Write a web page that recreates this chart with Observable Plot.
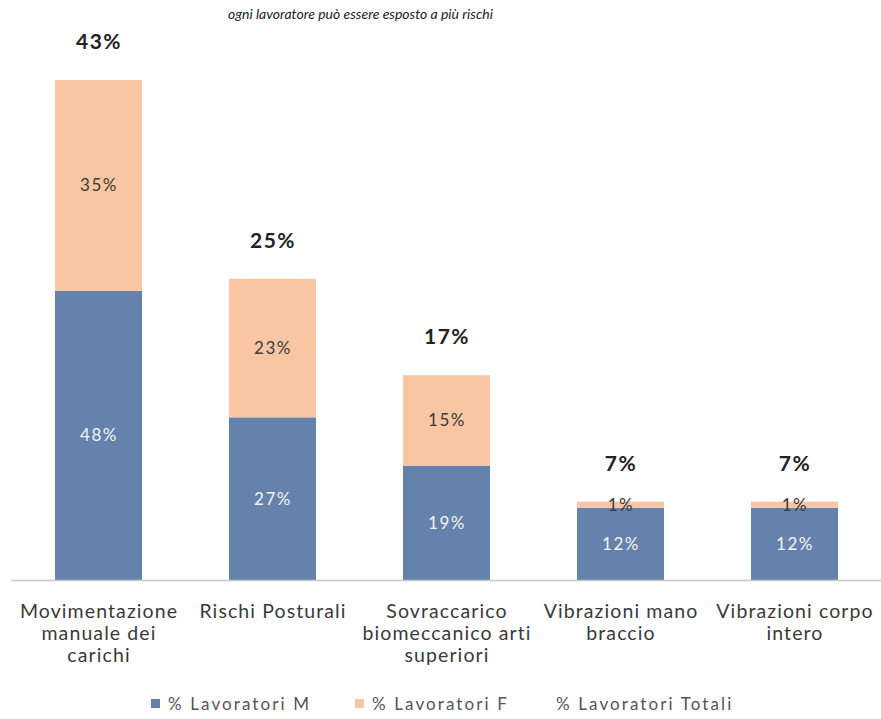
<!DOCTYPE html>
<html>
<head>
<meta charset="utf-8">
<script src="https://cdn.jsdelivr.net/npm/d3@7"></script>
<script src="https://cdn.jsdelivr.net/npm/@observablehq/plot@0.6"></script>
<style>
  html, body { margin: 0; padding: 0; background: #fff; }
  body { width: 881px; height: 719px; overflow: hidden; font-family: Lato, "Open Sans", sans-serif; }
  #subtitle { height: 24px; padding-top: 4px; line-height: 20px; box-sizing: border-box; text-align: left; padding-left: 228px; font-family: Lato, sans-serif; font-style: italic; font-size: 14px; color: #222; }
  #chart svg { overflow: visible; display: block; }
  #chart g[aria-label="x-axis tick label"] text { letter-spacing: 1.1px; }
  #chart g.seglabel text { letter-spacing: 1.5px; }
  #chart g.totlabel text { letter-spacing: 1.5px; }
  #legend { font-size: 17px; color: #555; letter-spacing: 2.1px; }
  #legend .item { display: flex; align-items: center; position: absolute; }
  #legend .sw { width: 9px; height: 9px; margin-right: 8px; display: inline-block; }
</style>
</head>
<body>
<div id="subtitle">ogni lavoratore può essere esposto a più rischi</div>
<div id="chart"></div>
<div id="legend"></div>
<script>
const categories = [
  "Movimentazione manuale dei carichi",
  "Rischi Posturali",
  "Sovraccarico biomeccanico arti superiori",
  "Vibrazioni mano braccio",
  "Vibrazioni corpo intero"
];
const tickLabels = [
  "Movimentazione\nmanuale dei\ncarichi",
  "Rischi Posturali",
  "Sovraccarico\nbiomeccanico arti\nsuperiori",
  "Vibrazioni mano\nbraccio",
  "Vibrazioni corpo\nintero"
];
const lavoratoriM = [48, 27, 19, 12, 12];
const lavoratoriF = [35, 23, 15, 1, 1];
const lavoratoriTotali = [43, 25, 17, 7, 7];
const seriesNames = ["% Lavoratori M", "% Lavoratori F", "% Lavoratori Totali"];

const colorM = "#6582ad";
const colorF = "#f8c6a2";

const rows = [];
categories.forEach((c, i) => {
  rows.push({cat: c, serie: "M", v: lavoratoriM[i]});
  rows.push({cat: c, serie: "F", v: lavoratoriF[i]});
});
const totals = categories.map((c, i) => ({cat: c, top: lavoratoriM[i] + lavoratoriF[i], t: lavoratoriTotali[i]}));
const labelOf = new Map(categories.map((c, i) => [c, tickLabels[i]]));

const chart = Plot.plot({
  width: 881,
  height: 646,
  marginTop: 56,
  marginBottom: 90,
  marginLeft: 11,
  marginRight: 0,
  style: {fontFamily: "Lato, 'Open Sans', sans-serif", background: "transparent"},
  x: {domain: categories, paddingInner: 0.5, paddingOuter: 0.25, label: null},
  y: {domain: [0, 83], axis: null},
  color: {domain: ["M", "F"], range: [colorM, colorF]},
  marks: [
    Plot.barY(rows, Plot.stackY({x: "cat", y: "v", fill: "serie", z: "serie", order: ["M", "F"]})),
    Plot.ruleY([0], {stroke: "#c8c8c8", strokeWidth: 1.5}),
    Plot.text(rows, Plot.stackY({x: "cat", y: "v", z: "serie", order: ["M", "F"], text: d => d.serie === "M" ? d.v + "%" : "", fill: "#f4f4f4", fontSize: 17, className: "seglabel"})),
    Plot.text(rows, Plot.stackY({x: "cat", y: "v", z: "serie", order: ["M", "F"], text: d => d.serie === "F" ? d.v + "%" : "", fill: "#3a3a3a", fontSize: 17, className: "seglabel"})),
    Plot.text(totals, {x: "cat", y: "top", text: d => d.t + "%", dy: -38, fontSize: 21, fontWeight: "bold", fill: "#222", className: "totlabel"}),
    Plot.axisX({tickSize: 0, tickPadding: 22, fontSize: 19.5, lineHeight: 1.13, fill: "#3a3a3a", tickFormat: d => labelOf.get(d), label: null})
  ]
});
document.getElementById("chart").appendChild(chart);

const legend = document.getElementById("legend");
const legendItems = [
  {name: seriesNames[0], color: colorM, left: 151},
  {name: seriesNames[1], color: colorF, left: 355},
  {name: seriesNames[2], color: null, left: 556}
];
legendItems.forEach(it => {
  const el = document.createElement("div");
  el.className = "item";
  el.style.left = it.left + "px";
  el.style.top = "693px";
  if (it.color) {
    const sw = document.createElement("span");
    sw.className = "sw";
    sw.style.background = it.color;
    el.appendChild(sw);
  }
  const tx = document.createElement("span");
  tx.textContent = it.name;
  el.appendChild(tx);
  legend.appendChild(el);
});
</script>
</body>
</html>
